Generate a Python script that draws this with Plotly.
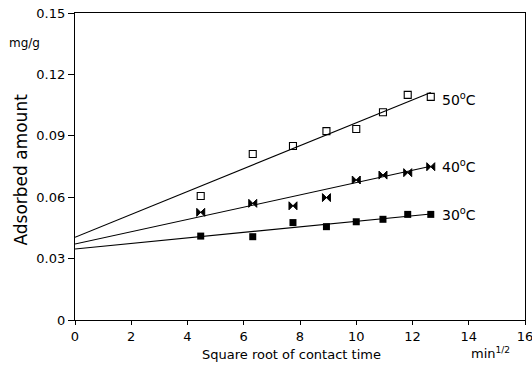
import plotly.graph_objects as go

# Data (x = square root of contact time, min^1/2; y = adsorbed amount, mg/g)
x_vals = [4.47, 6.32, 7.75, 8.94, 10.0, 10.95, 11.83, 12.65]
y_50 = [0.0606, 0.0811, 0.0850, 0.0923, 0.0933, 0.1015, 0.1100, 0.1090]
y_40 = [0.0526, 0.0570, 0.0558, 0.0598, 0.0684, 0.0708, 0.0720, 0.0749]
y_30 = [0.0410, 0.0407, 0.0476, 0.0456, 0.0480, 0.0492, 0.0516, 0.0516]

fit_x = [0.0, 12.65]
fit_50 = [0.0404, 0.1112]
fit_40 = [0.0371, 0.0751]
fit_30 = [0.0347, 0.0518]

series_labels = ["50<sup>o</sup>C", "40<sup>o</sup>C", "30<sup>o</sup>C"]
label_y = [0.1081, 0.0752, 0.0518]
label_x = 12.98

x_ticks = [0, 2, 4, 6, 8, 10, 12, 14, 16]
y_ticks = [0, 0.03, 0.06, 0.09, 0.12, 0.15]
y_ticktext = ["0", "0.03", "0.06", "0.09", "0.12", "0.15"]

FONT = "DejaVu Sans"
fig = go.Figure()

for fy in (fit_50, fit_40, fit_30):
    fig.add_trace(go.Scatter(x=fit_x, y=fy, mode="lines",
                             line=dict(color="black", width=1.1),
                             showlegend=False, hoverinfo="skip"))

fig.add_trace(go.Scatter(x=x_vals, y=y_50, mode="markers",
                         marker=dict(symbol="square-open", size=7, color="black",
                                     line=dict(width=1.1, color="black")),
                         showlegend=False))
fig.add_trace(go.Scatter(x=x_vals, y=y_40, mode="markers",
                         marker=dict(symbol="bowtie", size=8, color="black",
                                     line=dict(width=1, color="black")),
                         showlegend=False))
fig.add_trace(go.Scatter(x=x_vals, y=y_30, mode="markers",
                         marker=dict(symbol="square", size=7, color="black",
                                     line=dict(width=0)),
                         showlegend=False))

annotations = []
for txt, yy in zip(series_labels, label_y):
    annotations.append(dict(x=label_x, y=yy, xref="x", yref="y", text=txt,
                            showarrow=False, xanchor="left", yanchor="middle",
                            font=dict(family=FONT, size=14, color="black")))

annotations += [
    dict(x=-0.113, y=0.902, xref="paper", yref="paper", text="mg/g",
         showarrow=False, xanchor="center", yanchor="middle",
         font=dict(family=FONT, size=12, color="black")),
    dict(x=-0.12, y=0.49, xref="paper", yref="paper", text="Adsorbed amount",
         showarrow=False, textangle=-90, xanchor="center", yanchor="middle",
         font=dict(family=FONT, size=17, color="black")),
    dict(x=0.482, y=-0.114, xref="paper", yref="paper",
         text="Square root of contact time",
         showarrow=False, xanchor="center", yanchor="middle",
         font=dict(family=FONT, size=13, color="black")),
    dict(x=0.924, y=-0.108, xref="paper", yref="paper", text="min<sup>1/2</sup>",
         showarrow=False, xanchor="center", yanchor="middle",
         font=dict(family=FONT, size=13, color="black")),
]

fig.update_layout(
    width=532, height=365,
    margin=dict(l=75, r=7, t=13, b=45, autoexpand=False),
    paper_bgcolor="white", plot_bgcolor="white",
    annotations=annotations,
    showlegend=False,
)
fig.update_xaxes(range=[0, 16], tickvals=x_ticks, ticks="outside", ticklen=4,
                 tickcolor="black", showline=True, linecolor="black", linewidth=1.2,
                 mirror=True, showgrid=False, zeroline=False, automargin=False,
                 ticklabeloverflow="allow",
                 tickfont=dict(family=FONT, size=13, color="black"))
fig.update_yaxes(range=[0, 0.15], tickvals=y_ticks, ticktext=y_ticktext,
                 ticks="outside", ticklen=6, tickcolor="black",
                 showline=True, linecolor="black", linewidth=1.2, mirror=True,
                 showgrid=False, zeroline=False, automargin=False,
                 ticklabeloverflow="allow",
                 tickfont=dict(family=FONT, size=13, color="black"))

fig.write_html("out.html", config={"displayModeBar": False},
               post_script="document.body.style.margin='0';document.body.style.overflow='hidden';")
